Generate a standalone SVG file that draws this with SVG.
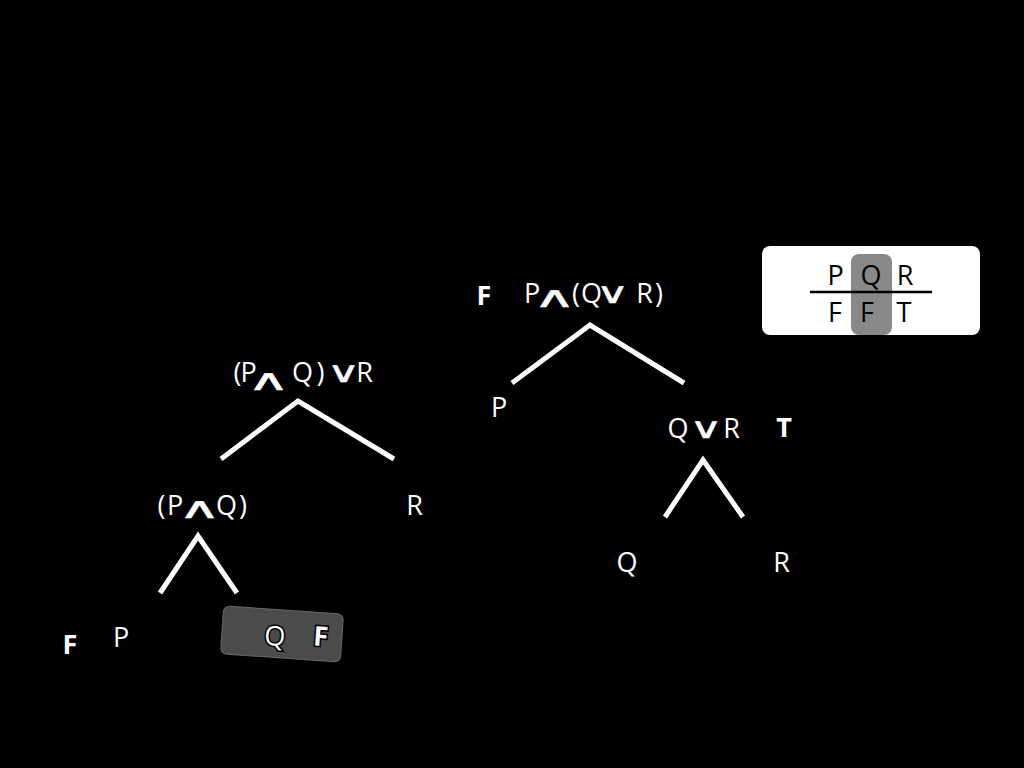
<svg xmlns="http://www.w3.org/2000/svg" width="1024" height="768" viewBox="0 0 1024 768">
<style>
text{text-anchor:middle}
.t{font-family:"Open Sans","DejaVu Sans",sans-serif;font-size:27px;fill:#fff}
.b{font-family:"Open Sans","DejaVu Sans",sans-serif;font-size:27px;font-weight:bold;fill:#fff}
.op{font-family:"DejaVu Sans",sans-serif;font-size:29px;stroke:#fff;stroke-width:0.3}
.e{stroke:#fff;stroke-width:5;fill:none}
.k{font-family:"Open Sans","DejaVu Sans",sans-serif;font-size:27px;fill:#000}
.h{stroke:#000;stroke-width:3;paint-order:stroke}
</style>
<rect width="1024" height="768" fill="#000"/>
<g id="connectors">
<path class="e" d="M221,459 L298,401 L394,459"/>
<path class="e" d="M160,593 L198,536 L237,593"/>
<path class="e" d="M512,383 L590,325 L684,383"/>
<path class="e" d="M665,517 L703,460 L743,517"/>
</g>
<g id="n-root-left">
<text class="t" y="382"><tspan x="237.5">(</tspan><tspan x="248.5">P</tspan><tspan class="op" x="268.5" y="390" textLength="44" lengthAdjust="spacingAndGlyphs">∧</tspan><tspan x="302.5" y="382">Q</tspan><tspan x="320.5">)</tspan><tspan class="op" x="343.5" textLength="34" lengthAdjust="spacingAndGlyphs">∨</tspan><tspan x="364.5">R</tspan></text>
</g>
<g id="n-pq">
<text class="t" y="515"><tspan x="161.5">(</tspan><tspan x="175">P</tspan><tspan class="op" x="199.5" y="518" textLength="44" lengthAdjust="spacingAndGlyphs">∧</tspan><tspan x="226.5" y="515">Q</tspan><tspan x="243">)</tspan></text>
</g>
<g id="n-r-left"><text class="t" x="414.5" y="515">R</text></g>
<g id="n-p-left"><text class="b" x="70" y="654">F</text><text class="t" x="121" y="647">P</text></g>
<g id="n-q-left" transform="rotate(4 282 634)">
<rect x="222" y="610" width="120" height="48" rx="6" fill="#4b4b4b" stroke="#6a6a5a" stroke-width="1"/>
<text class="t h" x="275" y="646">Q</text>
<text class="b h" x="321" y="643">F</text>
</g>
<g id="n-root-right">
<text class="b" x="484" y="305">F</text>
<text class="t" y="303"><tspan x="532">P</tspan><tspan class="op" x="554.5" y="307" textLength="44" lengthAdjust="spacingAndGlyphs">∧</tspan><tspan x="576" y="303">(</tspan><tspan x="591.5">Q</tspan><tspan class="op" x="612.5" textLength="34" lengthAdjust="spacingAndGlyphs">∨</tspan><tspan x="644.5">R</tspan><tspan x="659">)</tspan></text>
</g>
<g id="n-p-right"><text class="t" x="499" y="417">P</text></g>
<g id="n-qr">
<text class="t" y="438"><tspan x="678">Q</tspan><tspan class="op" x="706" textLength="34" lengthAdjust="spacingAndGlyphs">∨</tspan><tspan x="731.5">R</tspan></text>
<text class="b" x="784" y="437">T</text>
</g>
<g id="n-q-right"><text class="t" x="627" y="572">Q</text></g>
<g id="n-r-right"><text class="t" x="781.5" y="572">R</text></g>
<g id="truth-table">
<rect x="762" y="246" width="218" height="89" rx="8" fill="#fff"/>
<rect x="851" y="254" width="41" height="81" rx="8" fill="#888"/>
<line x1="810" y1="292" x2="932" y2="292" stroke="#000" stroke-width="2.5"/>
<text class="k" x="835.5" y="285">P</text><text class="k" x="871" y="285">Q</text><text class="k" x="905" y="285">R</text>
<text class="k" x="835" y="322">F</text><text class="k" x="867" y="322">F</text><text class="k" x="904" y="322">T</text>
</g>
</svg>
